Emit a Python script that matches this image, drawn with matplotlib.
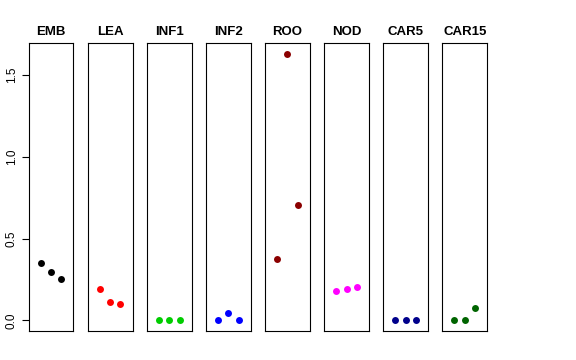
import matplotlib.pyplot as plt

# tissues and values (three replicates each)
tissues = ['EMB', 'LEA', 'INF1', 'INF2', 'ROO', 'NOD', 'CAR5', 'CAR15']
emb = [0.351, 0.298, 0.251]
lea = [0.194, 0.110, 0.102]
inf1 = [0.0, 0.0, 0.0]
inf2 = [0.0, 0.045, 0.0]
roo = [0.378, 1.631, 0.704]
nod = [0.182, 0.194, 0.206]
car5 = [0.0, 0.0, 0.0]
car15 = [0.0, 0.0, 0.073]
values = [emb, lea, inf1, inf2, roo, nod, car5, car15]
colors = ['black', 'red', '#00CD00', 'blue', '#8B0000', 'magenta', '#00008B', '#006400']
reps = [1, 2, 3]

plt.rcParams['font.family'] = ['Liberation Sans', 'DejaVu Sans']

fig = plt.figure(figsize=(5.76, 3.6), dpi=100)

W, H = 576, 360
ymax = max(max(v) for v in values)
ylo, yhi = -0.04 * ymax, ymax * 1.04

for i, (name, vals, col) in enumerate(zip(tissues, values, colors)):
    left = 28.7 + 59.1 * i
    ax = fig.add_axes([left / W, (H - 331) / H, 44.7 / W, 288 / H])
    ax.plot(reps, vals, 'o', color=col, markersize=5, markeredgewidth=0)
    ax.set_xlim(-0.16, 4.16)
    ax.set_ylim(ylo, yhi)
    ax.set_xticks([])
    ax.set_title(name, fontsize=9.5, fontweight='bold', pad=6)
    for s in ax.spines.values():
        s.set_linewidth(0.8)
    if i == 0:
        ax.set_yticks([0.0, 0.5, 1.0, 1.5])
        ax.set_yticklabels(['0.0', '0.5', '1.0', '1.5'], rotation=90, va='center')
        ax.tick_params(axis='y', length=5, width=0.8, labelsize=8.5, pad=3)
    else:
        ax.set_yticks([])

fig.savefig('out.png', dpi=100)
